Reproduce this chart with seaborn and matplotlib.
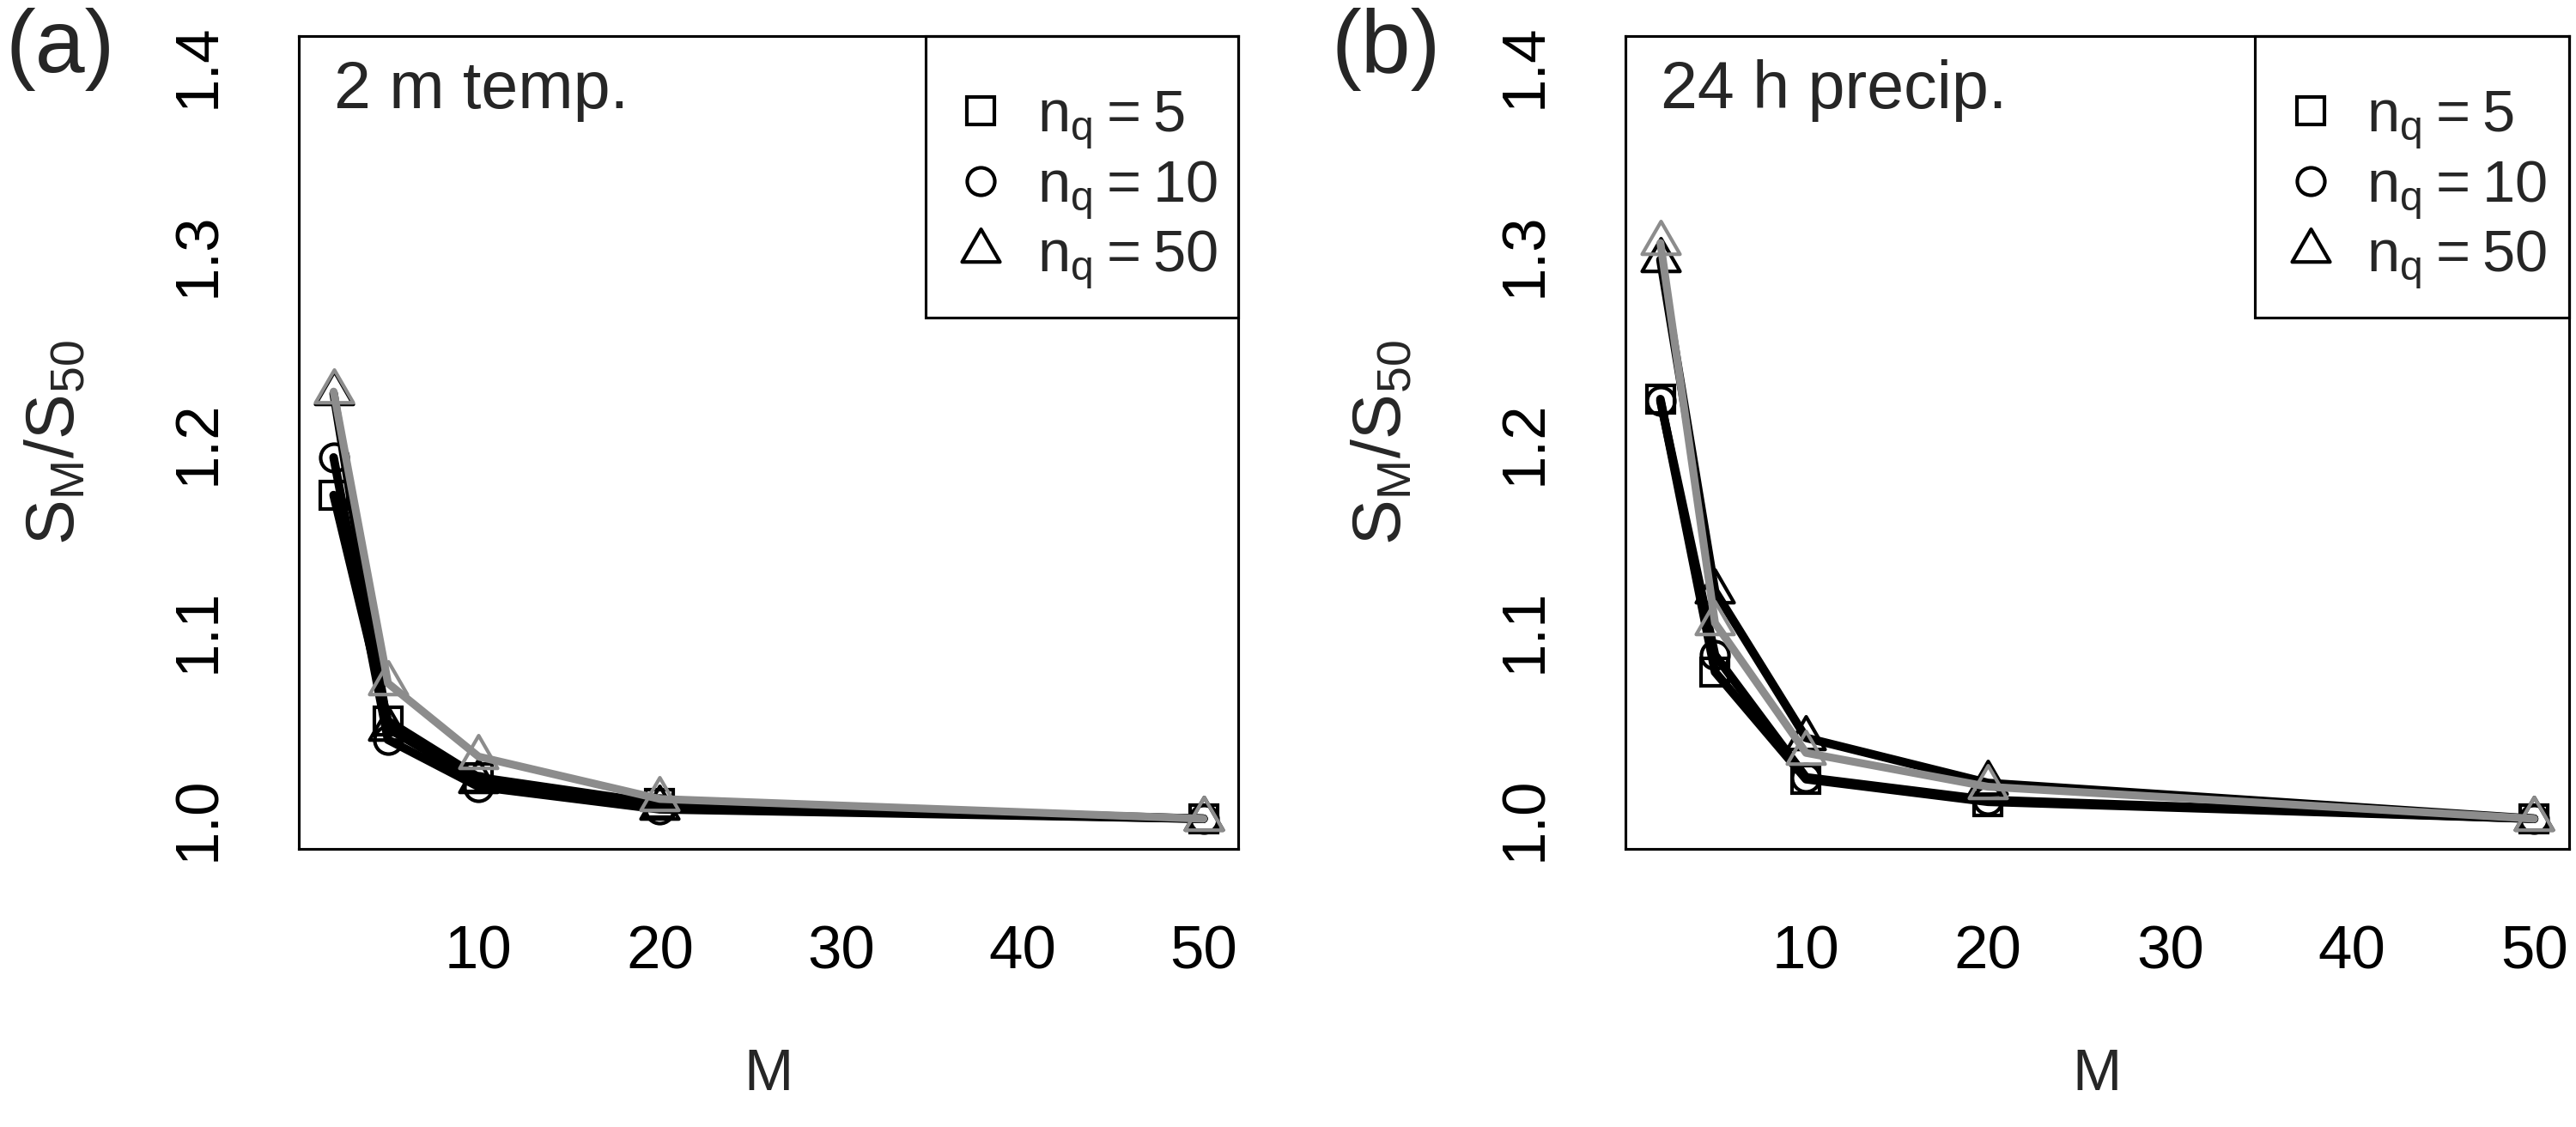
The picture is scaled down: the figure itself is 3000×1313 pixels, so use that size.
import numpy as np
import pandas as pd
import matplotlib
matplotlib.use("Agg")
import matplotlib.pyplot as plt
from matplotlib.path import Path
from matplotlib.lines import Line2D
from matplotlib.patches import Rectangle
import seaborn as sns

# ensemble sizes
M = [2, 5, 10, 20, 50]

# (a) 2 m temperature, ratio S_M / S_50
temp_nq5 = [1.172, 1.052, 1.022, 1.008, 1.000]
temp_nq10 = [1.192, 1.042, 1.017, 1.005, 1.000]
temp_nq50 = [1.226, 1.048, 1.020, 1.006, 1.000]
temp_gray = [1.227, 1.072, 1.033, 1.0105, 1.000]

# (b) 24 h precipitation
prec_nq5 = [1.223, 1.078, 1.021, 1.009, 1.000]
prec_nq10 = [1.222, 1.087, 1.022, 1.010, 1.000]
prec_nq50 = [1.297, 1.121, 1.043, 1.019, 1.000]
prec_gray = [1.306, 1.104, 1.035, 1.017, 1.000]

legend_labels = [r"$\mathregular{n_q = 5}$", r"$\mathregular{n_q = 10}$",
                 r"$\mathregular{n_q = 50}$"]

sns.set_theme(style="white")
plt.rcParams["font.family"] = ["Liberation Sans", "DejaVu Sans"]
plt.rcParams["mathtext.fontset"] = "custom"
plt.rcParams["mathtext.rm"] = "Liberation Sans"
plt.rcParams["axes.edgecolor"] = "black"
plt.rcParams["axes.linewidth"] = 0.75

GRAY = "#8c8c8c"
# R-style triangle (pch = 2), centred on circumcentre
tri = Path([(0, 1), (0.866, -0.5), (-0.866, -0.5), (0, 1)],
           [Path.MOVETO, Path.LINETO, Path.LINETO, Path.CLOSEPOLY])
marks = {"sq": ("s", 7.7), "ci": ("o", 7.7), "tri": (tri, 12.2)}

fig = plt.figure(figsize=(10, 4.377), dpi=300)
ax_a = fig.add_axes([0.116, 0.2468, 0.3647, 0.7212])
ax_b = fig.add_axes([0.631, 0.2468, 0.3663, 0.7212])

panels = [
    (ax_a, [temp_nq5, temp_nq10, temp_nq50], temp_gray, "2 m temp.", "(a)", 0.0233),
    (ax_b, [prec_nq5, prec_nq10, prec_nq50], prec_gray, "24 h precip.", "(b)", 0.538),
]

for ax, blacks, gray, title, tag, tag_x in panels:
    for vals, key in zip(blacks, ["sq", "ci", "tri"]):
        mk, ms = marks[key]
        df = pd.DataFrame({"M": M, "ratio": vals})
        sns.lineplot(data=df, x="M", y="ratio", ax=ax, color="black", lw=2.4,
                     marker=mk, markersize=ms, markerfacecolor="none",
                     markeredgecolor="black", markeredgewidth=1.0, legend=False)
    df = pd.DataFrame({"M": M, "ratio": gray})
    sns.lineplot(data=df, x="M", y="ratio", ax=ax, color=GRAY, lw=2.2,
                 marker=tri, markersize=12.2, markerfacecolor="none",
                 markeredgecolor=GRAY, markeredgewidth=1.0, legend=False)

    ax.set_xlim(0.08, 51.92)
    ax.set_ylim(0.984, 1.416)
    ax.set_xticks([10, 20, 30, 40, 50])
    ax.set_yticks([1.0, 1.1, 1.2, 1.3, 1.4])
    ax.set_yticklabels(["1.0", "1.1", "1.2", "1.3", "1.4"])
    ax.tick_params(length=10.3, width=0.75, labelsize=17,
                   direction="out", color="black", labelcolor="black")
    ax.tick_params(axis="x", pad=10.9)
    ax.tick_params(axis="y", pad=9.6, labelrotation=90)
    for lab in ax.get_yticklabels():
        lab.set_va("center")
    for sp in ax.spines.values():
        sp.set_visible(True)
        sp.set_color("black")
        sp.set_linewidth(0.75)

    ax.set_xlabel("M", fontsize=16.5, labelpad=18.5)
    ax.set_ylabel(r"$\mathregular{S_M/S_{50}}$", fontsize=19, labelpad=23)
    ax.text(0.0375, 0.911, title, transform=ax.transAxes, fontsize=18.5,
            va="baseline", ha="left")
    fig.text(tag_x, 0.956, tag, fontsize=25, ha="center", va="center")

    # legend: box drawn separately so its size matches the original
    ax.add_patch(Rectangle((0.667, 0.6536), 0.333, 0.3464, transform=ax.transAxes,
                           fill=False, ec="black", lw=0.75, zorder=5, clip_on=False))
    handles = [Line2D([], [], ls="none", marker=marks[k][0], markersize=marks[k][1],
                      markerfacecolor="none", markeredgecolor="black",
                      markeredgewidth=1.0) for k in ["sq", "ci", "tri"]]
    ax.legend(handles, legend_labels, loc="upper left",
              bbox_to_anchor=(0.701, 0.935), bbox_transform=ax.transAxes,
              borderaxespad=0, borderpad=0, fontsize=16.5, frameon=False,
              handlelength=0.8, handletextpad=0.55, labelspacing=0.12)

fig.savefig("out.png", dpi=300, facecolor="white")
